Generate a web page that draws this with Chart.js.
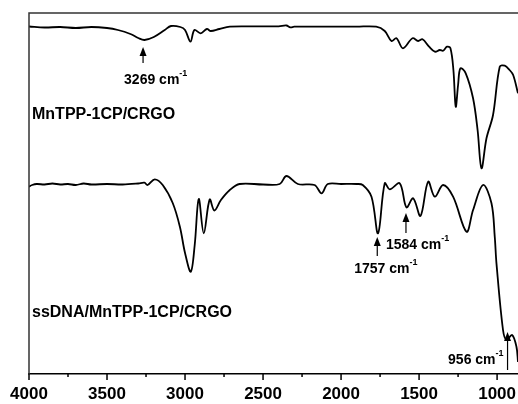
<!DOCTYPE html>
<html>
<head>
<meta charset="utf-8">
<script src="https://cdn.jsdelivr.net/npm/chart.js@4.4.0/dist/chart.umd.min.js"></script>
<style>
  html, body { margin: 0; padding: 0; background: #fff; }
  canvas { display: block; }
</style>
</head>
<body>
<canvas id="ftirChart" width="518" height="404"></canvas>
<script>
// FTIR spectra, wavenumber (cm-1) vs transmittance (a.u.)
const topWavenumbers = [4000, 3900, 3800, 3700, 3600, 3500, 3430, 3350, 3300, 3260, 3200, 3130, 3090, 3030, 3000,
    2965, 2940, 2900, 2860, 2835, 2780, 2713, 2600, 2400, 2350, 2325, 2300, 2100, 1900, 1775,
    1720, 1677, 1645, 1603, 1542, 1506, 1478, 1436, 1399, 1367, 1346, 1321, 1299, 1280, 1265,
    1250, 1235, 1201, 1154, 1125, 1100, 1068, 1026, 983, 951, 920, 897, 866];
const topValues = [347.5, 346.5, 347, 346, 347, 346, 344, 340, 336, 334, 337, 344, 348, 347, 344,
    332.3, 344, 340.7, 345, 343, 345, 347.3, 347.7, 347.7, 348.5, 346.7, 347.3, 347.3, 347.3, 347.3,
    343, 333, 335.7, 325.7, 335.7, 333, 334.7, 327.3, 322.3, 324, 323.3, 327.3, 325.7, 304, 267.3,
    289, 305.7, 300.7, 275.7, 244, 205.7, 235.7, 259, 307.3, 308.3, 304, 299, 280.7];

const bottomWavenumbers = [4000, 3980, 3950, 3900, 3850, 3800, 3750, 3700, 3650, 3600, 3500, 3400, 3300, 3260,
    3240, 3194, 3143, 3079, 3033, 3000, 2963, 2938, 2912, 2880, 2842, 2812, 2770, 2713, 2650,
    2500, 2393, 2350, 2277, 2170, 2125, 2085, 2000, 1900, 1861, 1805, 1763, 1720, 1688, 1624,
    1581, 1538, 1491, 1442, 1399, 1346, 1282, 1196, 1154, 1090, 1036, 1015, 1004, 962, 940,
    904, 876, 866];
const bottomValues = [187.3, 189, 190, 189.5, 190.5, 189.5, 190, 189, 190.5, 189.5, 190, 189.5, 190.5, 191.3,
    189, 194.7, 189, 171, 147.3, 121, 102.3, 129, 175, 140.7, 174.5, 163.5, 174, 184, 190,
    189.5, 190, 198, 190, 189, 180.7, 190, 190, 190, 189, 177.3, 140.7, 190.7, 184.7, 190.7,
    166.7, 175.7, 158, 192.3, 177.3, 189, 177.3, 142.3, 164, 189, 170.7, 137.3, 110.7, 44, 34,
    39, 27.3, 12];

const seriesLabels = ['MnTPP-1CP/CRGO', 'ssDNA/MnTPP-1CP/CRGO'];
const tickValues = [4000, 3750, 3500, 3250, 3000, 2750, 2500, 2250, 2000, 1750, 1500, 1250, 1000];
const peakLabels = ['3269', '1757', '1584', '956'];

const toPoints = (xs, ys) => xs.map((x, i) => ({ x: x, y: ys[i] }));

// annotation layout (arrow x in cm-1, arrow ends in a.u., text offsets in px)
const annotations = [
    { text: peakLabels[0], x: 3269, tip: 327, tail: 311, dx: -19, ty: 80, align: 'left' },
    { text: peakLabels[1], x: 1768, tip: 137, tail: 118, dx: -23, ty: 269, align: 'left' },
    { text: peakLabels[2], x: 1584, tip: 161, tail: 141, dx: -20, ty: 245, align: 'left' },
    { text: peakLabels[3], x: 933, tip: 42, tail: 4, dx: -4, ty: 360, align: 'right' }
];
const seriesTextPos = [{ x: 32, y: 115 }, { x: 32, y: 313 }];

const FONT = '"Liberation Sans", Arial, sans-serif';

function drawCm(ctx, label, x, y, align) {
    const main = label + ' cm';
    ctx.font = 'bold 14px ' + FONT;
    const w1 = ctx.measureText(main).width;
    ctx.font = 'bold 9px ' + FONT;
    const w2 = ctx.measureText('-1').width;
    let left = align === 'right' ? x - w1 - w2 : x;
    ctx.textAlign = 'left';
    ctx.textBaseline = 'middle';
    ctx.font = 'bold 14px ' + FONT;
    ctx.fillText(main, left, y);
    ctx.font = 'bold 9px ' + FONT;
    ctx.fillText('-1', left + w1, y - 6);
}

const decorPlugin = {
    id: 'decor',
    afterDraw(chart) {
        const ctx = chart.ctx;
        const area = chart.chartArea;
        const xs = chart.scales.x;
        const ys = chart.scales.y;
        ctx.save();
        ctx.strokeStyle = '#333';
        ctx.lineWidth = 1.5;
        ctx.beginPath();
        ctx.moveTo(area.left, area.bottom);
        ctx.lineTo(area.left, area.top);
        ctx.lineTo(area.right, area.top);
        ctx.stroke();

        // major / minor ticks
        ctx.strokeStyle = '#000';
        tickValues.forEach(v => {
            const px = xs.getPixelForValue(v);
            const len = v % 500 === 0 ? 6 : 3;
            ctx.beginPath();
            ctx.moveTo(px, area.bottom);
            ctx.lineTo(px, area.bottom + len);
            ctx.stroke();
        });

        ctx.fillStyle = '#000';
        ctx.font = 'bold 16px ' + FONT;
        ctx.textAlign = 'left';
        ctx.textBaseline = 'middle';
        seriesLabels.forEach((s, i) => ctx.fillText(s, seriesTextPos[i].x, seriesTextPos[i].y));

        annotations.forEach(a => {
            const px = xs.getPixelForValue(a.x);
            const tipY = ys.getPixelForValue(a.tip);
            const tailY = ys.getPixelForValue(a.tail);
            ctx.strokeStyle = '#000';
            ctx.lineWidth = 1.2;
            ctx.beginPath();
            ctx.moveTo(px, tailY);
            ctx.lineTo(px, tipY + 6);
            ctx.stroke();
            ctx.beginPath();
            ctx.moveTo(px, tipY);
            ctx.lineTo(px - 3.5, tipY + 9);
            ctx.lineTo(px + 3.5, tipY + 9);
            ctx.closePath();
            ctx.fill();
            drawCm(ctx, a.text, px + a.dx, a.ty, a.align);
        });
        ctx.restore();
    }
};

new Chart(document.getElementById('ftirChart'), {
    type: 'line',
    data: {
        datasets: [
            { label: seriesLabels[0], data: toPoints(topWavenumbers, topValues) },
            { label: seriesLabels[1], data: toPoints(bottomWavenumbers, bottomValues) }
        ]
    },
    options: {
        responsive: false,
        animation: false,
        layout: { padding: { left: 29, top: 13, right: 0, bottom: 0 } },
        elements: {
            line: { borderColor: '#000', borderWidth: 1.8, tension: 0.35, fill: false },
            point: { radius: 0 }
        },
        plugins: { legend: { display: false }, tooltip: { enabled: false } },
        scales: {
            x: {
                type: 'linear',
                reverse: true,
                min: 866,
                max: 4000,
                afterBuildTicks: scale => { scale.ticks = tickValues.map(v => ({ value: v })); },
                afterFit: scale => {
                    scale.height = 30;
                    scale.paddingLeft = 0;
                    scale.paddingRight = 0;
                },
                grid: { display: false },
                border: { display: true, color: '#000', width: 1.5 },
                ticks: {
                    autoSkip: false,
                    maxRotation: 0,
                    padding: 2,
                    color: '#000',
                    font: { family: FONT, size: 17, weight: 'bold' },
                    callback: v => (v % 500 === 0 ? v : '')
                }
            },
            y: { display: false, min: 0, max: 361 }
        }
    },
    plugins: [decorPlugin]
});
</script>
</body>
</html>
